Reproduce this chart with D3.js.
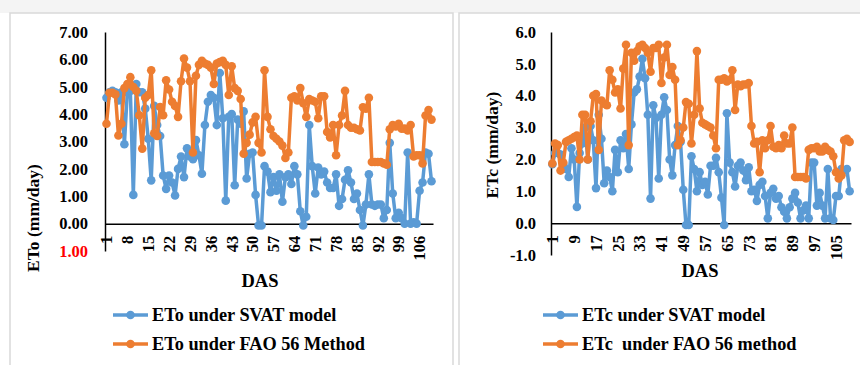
<!DOCTYPE html>
<html>
<head>
<meta charset="utf-8">
<script src="https://cdn.jsdelivr.net/npm/d3@7"></script>
<style>
  body { margin: 0; background: #fff; }
</style>
</head>
<body>
<svg id="chart" width="860" height="365"></svg>
<script>
// days after sowing, 1..110
var days = d3.range(1, 111);

var etoSvat = [4.6,4.8,4.85,4.8,4.5,4.8,2.9,4.8,4.85,1.05,
  5.1,4.8,4.8,4.2,3.1,1.58,4.3,3.6,3.2,1.76,
  1.27,1.76,1.5,1.03,2.0,2.45,1.7,2.75,2.45,2.35,
  3.05,2.5,1.82,3.6,4.45,4.7,4.6,3.6,5.5,3.85,
  0.84,3.9,4.0,1.4,3.8,3.65,4.1,1.65,2.55,2.6,
  1.05,-0.07,-0.07,2.1,1.9,1.15,1.7,1.2,1.8,0.8,
  1.7,1.8,1.45,2.1,1.8,0.45,-0.07,0.25,3.6,2.1,
  1.1,2.05,1.8,1.9,1.5,1.3,1.3,1.8,0.65,0.9,
  1.6,1.95,1.5,0.9,1.1,0.5,-0.07,0.7,1.8,0.7,
  0.65,0.7,0.7,0.2,0.5,2.95,1.1,0.2,0.4,0.2,
  0.0,2.6,0.0,0.05,0.0,1.2,1.5,2.6,2.55,1.55];

var etoFao = [3.65,4.78,4.78,4.72,3.22,3.65,4.95,5.1,5.35,4.99,
  4.85,3.96,2.74,4.6,4.7,5.6,3.3,3.2,4.26,3.96,
  5.24,4.9,4.45,4.3,3.9,5.2,6.03,5.7,5.2,2.6,
  5.4,5.8,5.95,5.85,5.8,5.7,5.1,5.85,5.9,5.95,
  5.8,4.7,5.75,4.95,4.85,4.55,2.55,2.95,3.25,3.7,
  3.9,2.95,2.6,5.6,3.9,3.45,3.2,3.1,3.0,2.85,
  2.4,2.6,4.6,4.65,4.5,4.95,4.4,3.9,4.55,4.5,
  4.45,3.85,4.65,4.65,3.35,3.15,3.6,2.5,3.6,3.95,
  4.85,3.6,3.5,3.5,3.45,3.4,4.25,4.2,4.6,2.25,
  2.25,2.25,2.25,2.2,2.15,3.45,3.6,3.55,3.65,3.47,
  3.47,3.4,3.6,2.45,2.5,2.5,2.2,3.95,4.15,3.8];

var etcSvat = [1.85,2.2,2.2,2.15,1.85,1.7,1.45,2.35,2.0,0.51,
  2.2,2.5,3.0,2.0,3.05,2.6,1.1,3.4,2.65,1.25,
  1.65,1.45,1.0,2.3,1.6,2.6,2.35,2.8,1.7,3.1,
  4.1,4.2,4.6,5.16,4.55,3.4,0.77,3.7,3.3,1.4,
  3.4,3.95,3.55,2.0,1.5,2.45,3.05,2.55,1.05,-0.06,
  -0.06,2.1,1.7,1.0,1.6,1.2,1.3,0.9,1.8,1.8,
  2.05,1.6,0.8,-0.06,3.45,1.9,1.6,1.15,1.8,1.9,
  1.65,1.35,1.75,1.0,1.05,0.7,1.2,1.3,0.85,0.15,
  0.95,1.08,0.77,0.85,0.5,0.36,0.15,0.5,0.77,0.95,
  0.65,0.15,0.4,0.55,0.15,1.9,1.9,0.55,0.95,0.55,
  0.15,1.7,0.15,0.1,0.85,0.85,1.7,1.65,1.7,1.0];

var etcFao = [1.87,2.5,2.45,1.65,1.9,2.55,2.6,2.65,2.7,2.75,
  2.0,3.4,3.4,2.0,3.2,4.0,4.05,2.3,3.85,3.75,
  3.7,4.8,4.5,4.1,4.2,3.6,4.85,5.6,2.45,5.35,
  5.1,5.4,5.55,5.6,5.5,5.35,4.75,5.5,5.5,5.6,
  4.4,5.2,5.6,4.65,4.9,4.5,2.45,2.6,3.0,3.8,
  3.75,2.5,3.4,5.4,3.6,3.15,3.1,3.05,3.0,2.75,
  2.35,4.5,4.5,4.55,4.45,4.5,4.8,3.55,4.35,4.3,
  4.35,4.35,4.4,3.05,2.5,2.55,1.6,2.6,2.35,2.6,
  3.05,2.4,2.35,2.45,2.35,2.75,2.5,2.5,3.0,1.45,
  1.45,1.45,1.45,1.4,2.3,2.35,2.35,2.4,2.25,2.25,
  2.4,2.3,2.25,2.1,1.6,1.4,1.5,2.6,2.65,2.55];

var etoTicks = [-1, 0, 1, 2, 3, 4, 5, 6, 7];
var etoTickLabels = ["1.00","0.00","1.00","2.00","3.00","4.00","5.00","6.00","7.00"];
var etcTicks = [-1, 0, 1, 2, 3, 4, 5, 6];
var etcTickLabels = ["-1.0","0.0","1.0","2.0","3.0","4.0","5.0","6.0"];

var blue = "#5b9bd5", orange = "#ed7d31";
var serif = "'Liberation Serif', 'Times New Roman', 'DejaVu Serif', serif";

var svg = d3.select("#chart");

// panel frames
svg.append("rect").attr("x", 0).attr("y", 0).attr("width", 860).attr("height", 13).attr("fill", "#f4f4f4");
svg.append("rect").attr("x", 10).attr("y", 13).attr("width", 443).attr("height", 360)
  .attr("fill", "#fff").attr("stroke", "#d9d9d9").attr("stroke-width", 1.5);
svg.append("rect").attr("x", 459).attr("y", 13).attr("width", 410).attr("height", 360)
  .attr("fill", "#fff").attr("stroke", "#d9d9d9").attr("stroke-width", 1.5);

function label(sel, size) {
  return sel.style("font-family", serif).style("font-weight", "bold")
    .style("font-size", size + "px");
}

function panel(o) {
  var x = d3.scaleBand().domain(days).range([o.x0, o.x1]);
  var y = d3.scaleLinear().domain([o.ticks[0], o.ticks[o.ticks.length - 1]]).range([o.y0, o.y1]);
  var cx = d => x(d) + x.bandwidth() / 2;

  // y axis
  var ya = svg.append("g")
    .attr("transform", "translate(" + o.x0 + ",0)")
    .call(d3.axisLeft(y).tickValues(o.ticks).tickSize(0).tickPadding(o.pad)
      .tickFormat((d, i) => o.labels[i]));
  ya.select(".domain").attr("stroke", "#000").attr("stroke-width", 1.5);
  label(ya.selectAll("text"), 16.5)
    .style("fill", (d, i) => (o.red && i === 0) ? "#ff0000" : "#000");

  // x axis at zero
  var xa = svg.append("g")
    .attr("transform", "translate(0," + y(0) + ")")
    .call(d3.axisBottom(x).tickValues(days.filter((d, i) => i % o.step === 0)).tickSize(0));
  xa.select(".domain").attr("stroke", "#000").attr("stroke-width", 1.5);
  label(xa.selectAll("text"), 16.5)
    .style("fill", "#000")
    .attr("y", 0).attr("x", -12).attr("dy", "0.35em")
    .attr("transform", "rotate(-90)")
    .style("text-anchor", "end");

  // titles
  label(svg.append("text"), 17.5)
    .attr("transform", "translate(" + o.titleX + "," + o.titleY + ") rotate(-90)")
    .attr("text-anchor", "middle").attr("dy", "0.35em")
    .text(o.yTitle);
  label(svg.append("text"), 18.5)
    .attr("x", o.dasX).attr("y", o.dasY)
    .attr("text-anchor", "middle")
    .text("DAS");

  // series, orange drawn over blue
  var series = [[o.svat, blue], [o.fao, orange]];
  series.forEach(function (s) {
    var line = d3.line().x((v, i) => cx(days[i])).y(v => y(v));
    svg.append("path").datum(s[0])
      .attr("d", line)
      .attr("fill", "none").attr("stroke", s[1])
      .attr("stroke-width", 3.5).attr("stroke-linejoin", "round");
    svg.append("g").selectAll("circle").data(s[0]).enter().append("circle")
      .attr("cx", (v, i) => cx(days[i]))
      .attr("cy", v => y(v))
      .attr("r", 4.3)
      .attr("fill", s[1]);
  });

  // legend
  o.legend.forEach(function (t, k) {
    var ly = 315 + k * 29;
    var c = k === 0 ? blue : orange;
    svg.append("line").attr("x1", o.legX).attr("x2", o.legX + 35)
      .attr("y1", ly).attr("y2", ly).attr("stroke", c).attr("stroke-width", 3.5);
    svg.append("circle").attr("cx", o.legX + 17.5).attr("cy", ly).attr("r", 4.3).attr("fill", c);
    label(svg.append("text"), 18.3)
      .attr("x", o.legX + 39).attr("y", ly).attr("dy", "0.35em")
      .attr("xml:space", "preserve")
      .text(t);
  });
}

panel({
  x0: 105, x1: 433, y0: 251, y1: 32,
  ticks: etoTicks, labels: etoTickLabels, red: true, pad: 17, step: 7,
  svat: etoSvat, fao: etoFao,
  yTitle: "ETo (mm/day)", titleX: 33, titleY: 218,
  dasX: 260, dasY: 287,
  legX: 113,
  legend: ["ETo under SVAT model", "ETo under FAO 56 Method"]
});

panel({
  x0: 551, x1: 851, y0: 255, y1: 32,
  ticks: etcTicks, labels: etcTickLabels, red: false, pad: 15, step: 8,
  svat: etcSvat, fao: etcFao,
  yTitle: "ETc (mm/day)", titleX: 492, titleY: 145,
  dasX: 700, dasY: 277,
  legX: 543,
  legend: ["ETc under SVAT model", "ETc  under FAO 56 method"]
});
</script>
</body>
</html>
